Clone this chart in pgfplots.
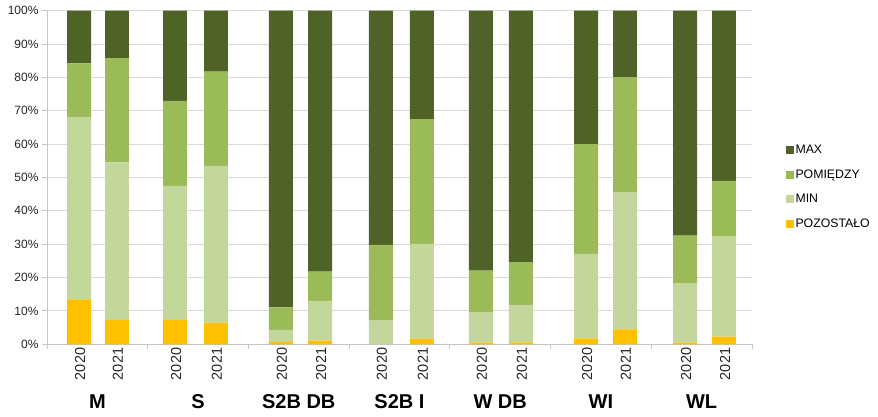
\documentclass[border=0pt]{standalone}
\usepackage{fontspec}
\setmainfont{Liberation Sans}
\usepackage{pgfplots}
\pgfplotsset{compat=1.18}
\definecolor{cmax}{HTML}{4F6228}
\definecolor{cpom}{HTML}{9BBB59}
\definecolor{cmin}{HTML}{C3D69B}
\definecolor{cpoz}{HTML}{FFC000}
\begin{document}
\begin{tikzpicture}
\begin{axis}[
  scale only axis, width=705pt, height=333.6pt,
  xmin=0, xmax=7, ymin=0, ymax=100, enlargelimits=false,
  ybar stacked, bar width=0.238,
  axis x line*=bottom, axis y line*=left,
  axis line style={draw=gray!45, line width=0.9pt, -},
  every outer x axis line/.append style={-},
  every outer y axis line/.append style={-},
  ymajorgrids, grid style={draw=gray!30, line width=1pt},
  ytick={0,10,...,100},
  yticklabel={\pgfmathprintnumber{\tick}\%},
  /pgf/number format/assume math mode=true,
  tick align=outside, major tick length=5pt,
  tick style={draw=gray!45, line width=0.9pt},
  yticklabel style={font=\fontsize{12}{14}\selectfont, text=black!85},
  xtick={0,1,2,3,4,5,6,7}, xticklabels={,,,,,,,},
  extra x ticks={0.318,0.695,1.271,1.678,2.323,2.711,3.316,3.723,4.309,4.706,5.352,5.739,6.335,6.722},
  extra x tick labels={2020,2021,2020,2021,2020,2021,2020,2021,2020,2021,2020,2021,2020,2021},
  extra x tick style={major tick length=0pt, xticklabel style={rotate=90, anchor=east, yshift=-1pt, font=\fontsize{14.5}{16}\selectfont, text=black!85}},
  clip=false,
  legend style={draw=none, fill=none, at={(1.043,0.4715)}, anchor=west,
    font=\fontsize{12.3}{14}\selectfont, row sep=10.5pt, legend cell align=left},
  reverse legend,
  legend image code/.code={\path[#1, draw=none] (0pt,-4pt) rectangle (8pt,4pt);},
]
\addplot[fill=cpoz, draw=none] coordinates {
 (0.318,13.5) (0.695,7.3) (1.271,7.3) (1.678,6.5) (2.323,0.7) (2.711,1.1) (3.316,0) (3.723,1.7) (4.309,0.5) (4.706,0.6) (5.352,1.8) (5.739,4.5) (6.335,0.5) (6.722,2.3)};
\addplot[fill=cmin, draw=none] coordinates {
 (0.318,54.7) (0.695,47.2) (1.271,40.2) (1.678,47.0) (2.323,3.6) (2.711,11.9) (3.316,7.1) (3.723,28.4) (4.309,9.0) (4.706,11.2) (5.352,25.3) (5.739,41.0) (6.335,17.8) (6.722,30.0)};
\addplot[fill=cpom, draw=none] coordinates {
 (0.318,16.0) (0.695,31.3) (1.271,25.5) (1.678,28.2) (2.323,6.8) (2.711,8.8) (3.316,22.7) (3.723,37.4) (4.309,12.6) (4.706,12.8) (5.352,32.9) (5.739,34.5) (6.335,14.3) (6.722,16.7)};
\addplot[fill=cmax, draw=none] coordinates {
 (0.318,15.8) (0.695,14.2) (1.271,27.0) (1.678,18.3) (2.323,88.9) (2.711,78.2) (3.316,70.2) (3.723,32.5) (4.309,77.9) (4.706,75.4) (5.352,40.0) (5.739,20.0) (6.335,67.4) (6.722,51.0)};
\legend{POZOSTAŁO,MIN,POMIĘDZY,MAX}
\foreach \g/\lab in {0/M,1/S,2/S2B DB,3/S2B I,4/W DB,5/WI,6/WL}{
  \edef\tmp{\noexpand\node[anchor=base, yshift=-64pt, font=\noexpand\bfseries\noexpand\fontsize{20}{24}\noexpand\selectfont] at (axis cs:\g.5,0) {\lab};}
  \tmp
}
\end{axis}
\pgfresetboundingbox
\path (current axis.south west) ++(-47pt,-72.7pt) rectangle ++(878pt,417pt);
\end{tikzpicture}
\end{document}
